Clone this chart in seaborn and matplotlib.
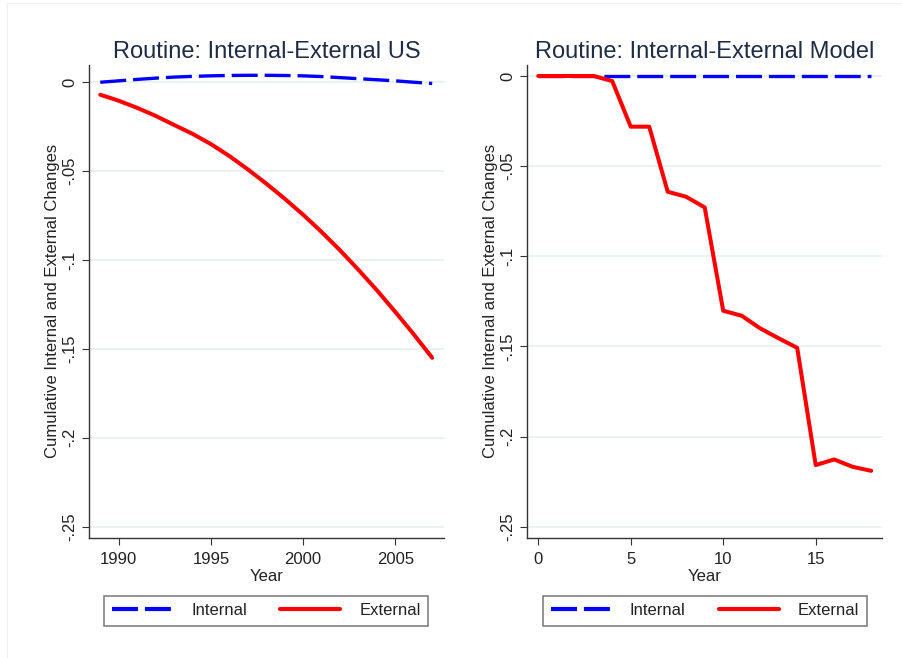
import numpy as np
import pandas as pd
import matplotlib
matplotlib.use("Agg")
import matplotlib.pyplot as plt
from matplotlib.lines import Line2D
import seaborn as sns

# ---------------- data ----------------
years_us = list(range(1989, 2008))
internal_us = [0.0000, 0.0008, 0.0016, 0.0023, 0.0029, 0.0033, 0.0036, 0.0038, 0.0039, 0.0039,
               0.0038, 0.0036, 0.0032, 0.0026, 0.0020, 0.0014, 0.0008, 0.0000, -0.0007]
external_us = [-0.0070, -0.0104, -0.0144, -0.0189, -0.0240, -0.0290, -0.0348, -0.0415, -0.0490, -0.0570,
               -0.0655, -0.0745, -0.0842, -0.0945, -0.1055, -0.1170, -0.1292, -0.1418, -0.1550]

years_model = list(range(0, 19))
internal_model = [0.0] * 19
external_model = [0.0, 0.0, 0.0, 0.0, -0.0028, -0.0281, -0.0281, -0.0642, -0.0670, -0.0729,
                  -0.1302, -0.1330, -0.1400, -0.1455, -0.1508, -0.2158, -0.2127, -0.2168, -0.2190]

yticks = [0, -0.05, -0.1, -0.15, -0.2, -0.25]
yticklabels = ["0", "-.05", "-.1", "-.15", "-.2", "-.25"]
xticks_us = [1990, 1995, 2000, 2005]
xticks_model = [0, 5, 10, 15]
titles = ["Routine: Internal-External US", "Routine: Internal-External Model"]
series_labels = ["Internal", "External"]

# ---------------- style ----------------
sns.set_theme(style="white")
plt.rcParams["font.family"] = ["Liberation Sans", "DejaVu Sans"]
plt.rcParams["lines.scale_dashes"] = False

W, H = 902, 658
fig = plt.figure(figsize=(W / 100, H / 100), dpi=100)
fig.patch.set_facecolor("white")

def fx(px):
    return px / W

def fy(py):
    return 1 - py / H

ax1 = fig.add_axes([fx(89), fy(537.7), fx(444 - 89), (537.7 - 65) / H])
ax2 = fig.add_axes([fx(527.3), fy(537.7), fx(882.3 - 527.3), (537.7 - 65) / H])

df_us = pd.DataFrame({"Year": years_us, "Internal": internal_us, "External": external_us})
df_model = pd.DataFrame({"Year": years_model, "Internal": internal_model, "External": external_model})

BLUE = "#0000ff"
RED = "#ff0000"
DASH = (0, (18.7, 5.0))
TITLE_C = "#1e2c45"
SPINE_C = "#333333"
GRID_C = "#e8f0f0"

configs = [
    (ax1, df_us, xticks_us, (1988.39, 2007.64), (-0.2562, 0.0097), titles[0], 0.2953),
    (ax2, df_model, xticks_model, (-0.59, 18.6), (-0.2561, 0.0061), titles[1], 0.7816),
]

for ax, df, xt, xl, yl, title, legx in configs:
    ax.set_facecolor("white")
    sns.lineplot(data=df, x="Year", y="Internal", ax=ax, color=BLUE, linewidth=2.4,
                 linestyle=DASH, label=series_labels[0], legend=False)
    sns.lineplot(data=df, x="Year", y="External", ax=ax, color=RED, linewidth=2.9,
                 label=series_labels[1], legend=False)
    ax.set_xlim(*xl)
    ax.set_ylim(*yl)
    ax.set_xticks(xt)
    ax.set_xticklabels([str(v) for v in xt])
    ax.set_yticks(yticks)
    ax.set_yticklabels(yticklabels)
    for lab in ax.get_yticklabels():
        lab.set_rotation(90)
        lab.set_va("center")
        lab.set_ha("right")
    ax.grid(axis="y", color=GRID_C, linewidth=1.2)
    ax.grid(axis="x", visible=False)
    ax.set_axisbelow(True)
    for s in ["top", "right"]:
        ax.spines[s].set_visible(False)
    for s in ["left", "bottom"]:
        ax.spines[s].set_color(SPINE_C)
        ax.spines[s].set_linewidth(1.0)
    ax.tick_params(axis="both", which="major", direction="out", length=5, width=0.8,
                   color=SPINE_C, labelsize=12, labelcolor="#222222", left=True, bottom=True)
    ax.tick_params(axis="y", pad=3.5)
    ax.tick_params(axis="x", pad=5.5)
    ax.set_xlabel("Year", fontsize=12, color="#222222", labelpad=1)
    ax.set_ylabel("Cumulative Internal and External Changes", fontsize=12, color="#222222", labelpad=1.8)
    ax.set_title(title, fontsize=17, color=TITLE_C, pad=5)

    handles = [Line2D([], [], color=BLUE, linewidth=3.0, linestyle=DASH),
               Line2D([], [], color=RED, linewidth=3.0)]
    leg = ax.legend(handles, series_labels, loc="center", bbox_to_anchor=(legx, fy(610.5)),
                    bbox_transform=fig.transFigure, ncol=2, frameon=True, fancybox=False,
                    edgecolor="#555555", fontsize=12, handlelength=3.6, handletextpad=1.15,
                    columnspacing=2.0, borderpad=0.45, borderaxespad=0)
    leg.get_frame().set_linewidth(1.1)
    for t in leg.get_texts():
        t.set_color("#222222")

# faint outer frame lines
fig.add_artist(Line2D([fx(7), fx(7)], [0, fy(3)], transform=fig.transFigure, color="#f0f0f0", lw=0.8))
fig.add_artist(Line2D([fx(7), 1], [fy(3), fy(3)], transform=fig.transFigure, color="#f0f0f0", lw=0.8))

fig.savefig("out.png", dpi=100, facecolor="white")
